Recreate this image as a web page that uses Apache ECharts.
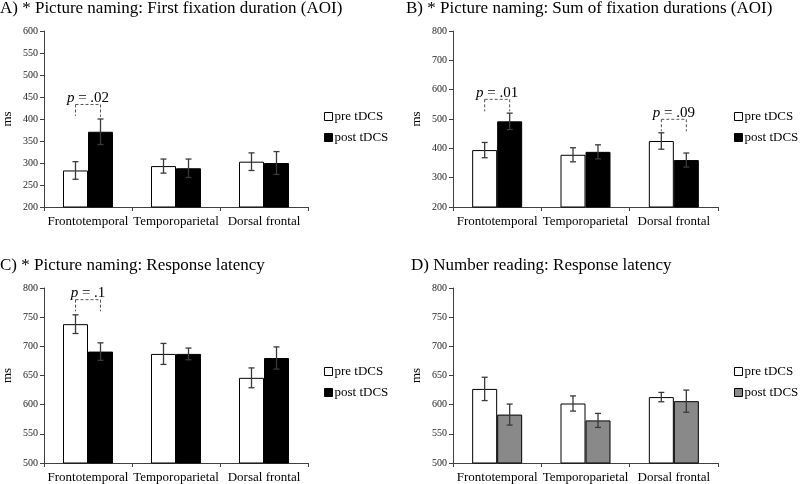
<!DOCTYPE html>
<html>
<head>
<meta charset="utf-8">
<script src="https://cdn.jsdelivr.net/npm/echarts@6/dist/echarts.min.js"></script>
<style>
html,body{margin:0;padding:0;background:#fff;}
#chart{width:800px;height:484px;}
</style>
</head>
<body>
<div id="chart"></div>
<script>
// ---- data ----
const categories = ['Frontotemporal', 'Temporoparietal', 'Dorsal frontal'];

const A_pre = [283, 293, 303];
const A_preErr = [20, 16, 20];
const A_post = [371, 288, 300];
const A_postErr = [29, 21, 26];

const B_pre = [394, 378, 425];
const B_preErr = [26, 24, 28];
const B_post = [492, 388, 360];
const B_postErr = [28, 24, 24];

const C_pre = [738, 687, 646];
const C_preErr = [16, 18, 17];
const C_post = [691, 687, 680];
const C_postErr = [15, 10, 19];

const D_pre = [627, 602, 613];
const D_preErr = [20, 13, 8];
const D_post = [583, 573, 606];
const D_postErr = [18, 12, 19];

// p-value brackets: [category index, bracket level, left leg end, right leg end, p label]
const A_brackets = [[0, 433, 407, 405, '.02']];
const B_brackets = [[0, 567, 526, 526, '.01'], [2, 499, 458, 458, '.09']];
const C_brackets = [[0, 780, 760, 760, '.1']];
const D_brackets = [];

const titles = [
  'A) * Picture naming: First fixation duration (AOI)',
  'B) * Picture naming: Sum of fixation durations (AOI)',
  'C) * Picture naming: Response latency',
  'D) Number reading: Response latency'
];
const yRanges = [[200, 600, 50], [200, 800, 100], [500, 800, 50], [500, 800, 50]];

// ---- styling ----
const FONT = 'Liberation Serif';
const BAR_W = 25;
const grids = [
  {left: 44, top: 31, width: 264, height: 176},
  {left: 453, top: 31, width: 265, height: 176},
  {left: 44, top: 288, width: 264, height: 175},
  {left: 453, top: 288, width: 265, height: 175}
];
const titlePos = [{left: 0, top: 0}, {left: 406, top: 0}, {left: 0, top: 257}, {left: 411, top: 257}];
const legendPos = [{left: 324, top: 110}, {left: 734, top: 110}, {left: 324, top: 365}, {left: 734, top: 365}];
const postColors = ['#000', '#000', '#000', '#898989'];

const panels = [
  [A_pre, A_preErr, A_post, A_postErr, A_brackets],
  [B_pre, B_preErr, B_post, B_postErr, B_brackets],
  [C_pre, C_preErr, C_post, C_postErr, C_brackets],
  [D_pre, D_preErr, D_post, D_postErr, D_brackets]
];

function errRender(side) {
  return function (params, api) {
    const cat = api.value(0), val = api.value(1), err = api.value(2);
    const hi = api.coord([cat, val + err]);
    const lo = api.coord([cat, val - err]);
    const x = hi[0] + side * BAR_W / 2;
    const cap = 3;
    const st = {stroke: '#3a3a3a', lineWidth: 1.3};
    return {type: 'group', children: [
      {type: 'line', shape: {x1: x, y1: hi[1], x2: x, y2: lo[1]}, style: st},
      {type: 'line', shape: {x1: x - cap, y1: hi[1], x2: x + cap, y2: hi[1]}, style: st},
      {type: 'line', shape: {x1: x - cap, y1: lo[1], x2: x + cap, y2: lo[1]}, style: st}
    ]};
  };
}

function bracketRender(brackets) {
  return function (params, api) {
    const b = brackets[params.dataIndex];
    const cat = b[0];
    const top = api.coord([cat, b[1]]);
    const l = api.coord([cat, b[2]]);
    const r = api.coord([cat, b[3]]);
    const xl = top[0] - BAR_W / 2, xr = top[0] + BAR_W / 2;
    const st = {stroke: '#555', lineWidth: 1, lineDash: [3, 2]};
    return {type: 'group', children: [
      {type: 'line', shape: {x1: xl, y1: top[1], x2: xr, y2: top[1]}, style: st},
      {type: 'line', shape: {x1: xl, y1: top[1], x2: xl, y2: l[1]}, style: st},
      {type: 'line', shape: {x1: xr, y1: top[1], x2: xr, y2: r[1]}, style: st},
      {type: 'text', x: top[0], y: top[1] + 1, style: {
        text: '{i|p} = ' + b[4],
        fill: '#000', font: '15px ' + FONT, align: 'center', verticalAlign: 'bottom',
        rich: {i: {fontStyle: 'italic', fontSize: 15, fontFamily: FONT}}
      }}
    ]};
  };
}

const option = {
  backgroundColor: '#fff',
  animation: false,
  title: titles.map((t, i) => ({
    text: t, left: titlePos[i].left, top: titlePos[i].top, padding: 0,
    textStyle: {fontFamily: FONT, fontWeight: 'normal', fontSize: 17, color: '#000'}
  })),
  legend: panels.map((p, i) => ({
    orient: 'vertical', left: legendPos[i].left, top: legendPos[i].top,
    itemWidth: 8, itemHeight: 8, itemGap: 8, padding: 0, selectedMode: false,
    textStyle: {fontFamily: FONT, fontSize: 13, color: '#000', padding: [0, 0, 0, -3]},
    data: [
      {name: 'pre tDCS', icon: 'rect', itemStyle: {color: '#fff', borderColor: '#000', borderWidth: 1}},
      {name: 'post tDCS', icon: 'rect', itemStyle: {color: postColors[i], borderColor: '#000', borderWidth: 1}}
    ]
  })),
  grid: grids,
  xAxis: grids.map((g, i) => ({
    type: 'category', gridIndex: i, data: categories,
    axisLine: {lineStyle: {color: '#404040', width: 1}},
    axisTick: {show: true, length: 4, alignWithLabel: false, lineStyle: {color: '#404040'}},
    axisLabel: {fontFamily: FONT, fontSize: 13, color: '#000', margin: 8, interval: 0}
  })),
  yAxis: yRanges.map((r, i) => ({
    type: 'value', gridIndex: i, min: r[0], max: r[1], interval: r[2],
    name: 'ms', nameLocation: 'middle', nameGap: 30, nameRotate: 90,
    nameTextStyle: {fontFamily: FONT, fontSize: 13, color: '#000'},
    axisLine: {show: true, lineStyle: {color: '#404040', width: 1}},
    axisTick: {show: true, length: 4, lineStyle: {color: '#404040'}},
    axisLabel: {fontFamily: FONT, fontSize: 10, color: '#222', margin: 6},
    splitLine: {show: false}
  })),
  series: []
};

panels.forEach((p, i) => {
  const [pre, preErr, post, postErr, brackets] = p;
  option.series.push({
    name: 'pre tDCS', type: 'bar', xAxisIndex: i, yAxisIndex: i, data: pre,
    barWidth: BAR_W, barGap: '0%',
    itemStyle: {color: '#fff', borderColor: '#000', borderWidth: 1}
  });
  option.series.push({
    name: 'post tDCS', type: 'bar', xAxisIndex: i, yAxisIndex: i, data: post,
    barWidth: BAR_W, barGap: '0%',
    itemStyle: {color: postColors[i], borderColor: '#000', borderWidth: 1}
  });
  option.series.push({
    type: 'custom', xAxisIndex: i, yAxisIndex: i, z: 5,
    renderItem: errRender(-1),
    data: pre.map((v, k) => [k, v, preErr[k]])
  });
  option.series.push({
    type: 'custom', xAxisIndex: i, yAxisIndex: i, z: 5,
    renderItem: errRender(1),
    data: post.map((v, k) => [k, v, postErr[k]])
  });
  if (brackets.length) {
    option.series.push({
      type: 'custom', xAxisIndex: i, yAxisIndex: i, z: 6, clip: false,
      renderItem: bracketRender(brackets),
      data: brackets.map(b => [b[0], b[1], b[2], b[3]])
    });
  }
});

const chart = echarts.init(document.getElementById('chart'), null, {renderer: 'canvas'});
chart.setOption(option);
</script>
</body>
</html>
